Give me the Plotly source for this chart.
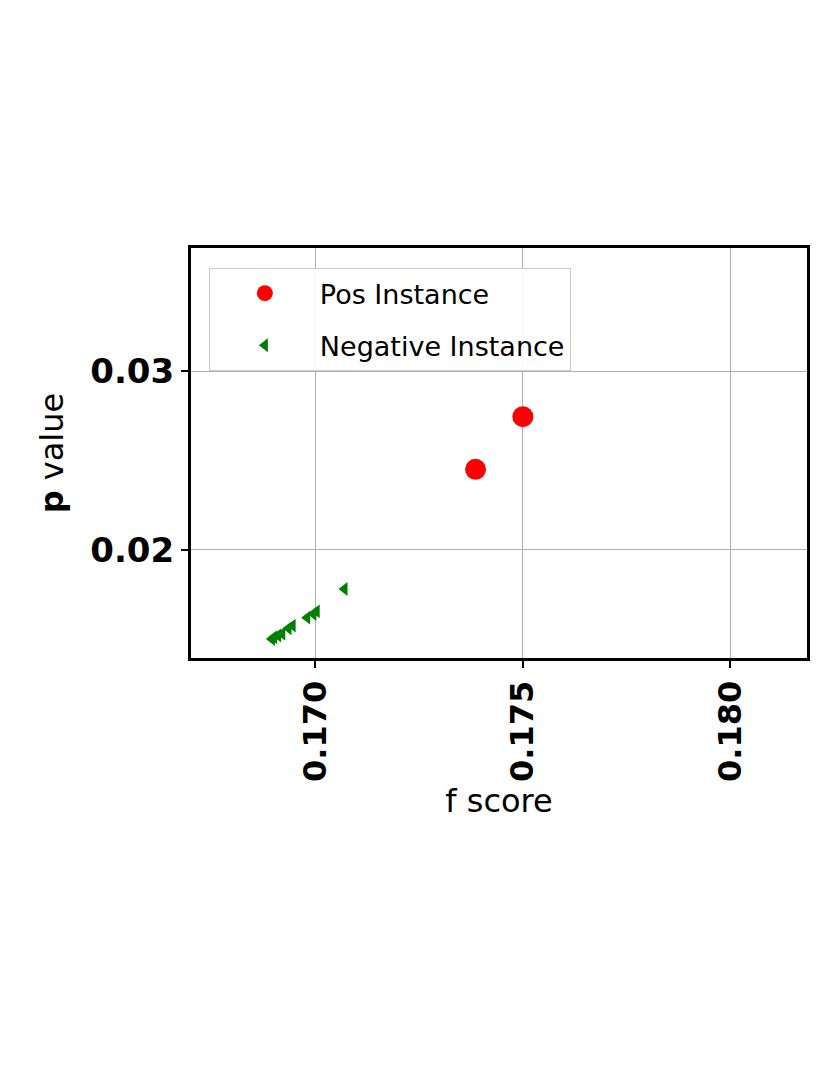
import plotly.graph_objects as go

pos_f = [0.17386, 0.17500]
pos_p = [0.02450, 0.02745]

neg_f = [0.17070, 0.17003, 0.16995, 0.16980, 0.16945, 0.16935, 0.16920, 0.16910, 0.16900, 0.16895]
neg_p = [0.01780, 0.01655, 0.01640, 0.01620, 0.01575, 0.01560, 0.01530, 0.01520, 0.01510, 0.01500]

x_ticks = [0.170, 0.175, 0.180]
x_labels = ["0.170", "0.175", "0.180"]
y_ticks = [0.02, 0.03]
y_labels = ["0.02", "0.03"]

font_fam = "DejaVu Sans, Lato, sans-serif"

fig = go.Figure()
fig.add_trace(go.Scatter(
    x=pos_f, y=pos_p, mode="markers", name="Pos Instance", legendgroup="pos",
    marker=dict(color="#ff0000", size=21, symbol="circle"),
))
fig.add_trace(go.Scatter(
    x=neg_f, y=neg_p, mode="markers", name="Negative Instance", legendgroup="neg",
    marker=dict(color="#008000", size=12, symbol="triangle-left"),
))

fig.update_layout(
    width=830, height=1075,
    paper_bgcolor="white", plot_bgcolor="white",
    margin=dict(l=183, r=31, t=240, b=425),
    font=dict(family=font_fam, color="black"),
    showlegend=True,
    legend=dict(
        x=0.029, y=0.951, xanchor="left", yanchor="top",
        bgcolor="rgba(255,255,255,0.9)", bordercolor="#cccccc", borderwidth=1,
        font=dict(size=27, family=font_fam),
        itemsizing="trace",
        itemwidth=100,
        traceorder="grouped",
        tracegroupgap=14,
    ),
)
fig.update_xaxes(
    range=[0.1670, 0.18185],
    tickmode="array", tickvals=x_ticks, ticktext=x_labels,
    tickangle=-90,
    tickfont=dict(size=32, family=font_fam, weight="bold"),
    ticks="outside", ticklen=7, tickwidth=1.5, tickcolor="black",
    showgrid=True, gridcolor="#b0b0b0", gridwidth=1,
    showline=True, linecolor="black", linewidth=3, mirror=True,
    zeroline=False,
    title=dict(text="f score", font=dict(size=32, family=font_fam), standoff=6),
)
fig.update_yaxes(
    range=[0.01394, 0.03689],
    tickmode="array", tickvals=y_ticks, ticktext=y_labels,
    tickfont=dict(size=34, family=font_fam, weight="bold"),
    ticks="outside", ticklen=7, tickwidth=1.5, tickcolor="black",
    showgrid=True, gridcolor="#b0b0b0", gridwidth=1,
    showline=True, linecolor="black", linewidth=3, mirror=True,
    zeroline=False,
    title=dict(text="<b>p</b> value", font=dict(size=32, family=font_fam), standoff=18),
)

fig.write_html("out.html")
